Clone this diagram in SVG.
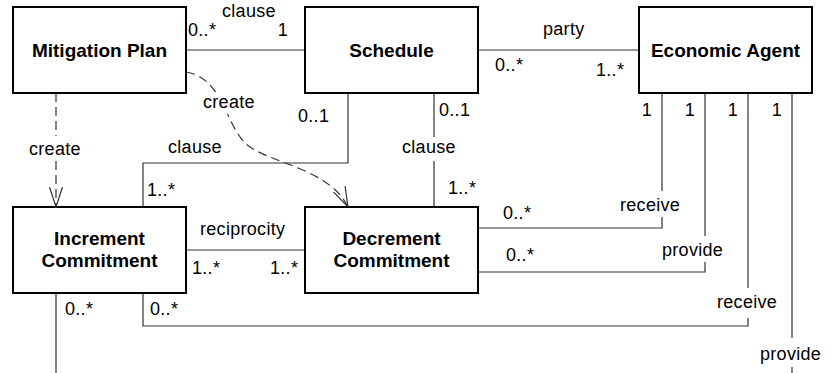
<svg xmlns="http://www.w3.org/2000/svg" width="839" height="373" viewBox="0 0 839 373">
  <style>
    .box { fill: #ffffff; stroke: #000000; stroke-width: 2; }
    .name { font-family: "Liberation Sans", Arial, sans-serif; font-size: 19px; font-weight: bold; fill: #000000; text-anchor: middle; }
    .lbl { font-family: "Liberation Sans", Arial, sans-serif; font-size: 18px; letter-spacing: 0.3px; fill: #000000; }
    .end { text-anchor: end; }
    .assoc { fill: none; stroke: #333333; stroke-width: 1.2; }
    .dep { fill: none; stroke: #333333; stroke-width: 1.2; stroke-dasharray: 9 5; }
  </style>
  <defs>
    <marker id="open-arrow" viewBox="0 0 20 14" refX="20" refY="7" markerWidth="20" markerHeight="14" markerUnits="userSpaceOnUse" orient="auto">
      <path d="M0,0.5 L20,7 L0,13.5" fill="none" stroke="#333333" stroke-width="1.2" stroke-dasharray="none"/>
    </marker>
  </defs>
  <rect width="839" height="373" fill="#ffffff"/>

  <!-- associations and dependencies -->
  <g id="connectors">
    <path class="assoc" d="M186,50 H305"/>
    <path class="assoc" d="M478,50 H639"/>
    <path class="assoc" d="M348,93 V163 H143 V207"/>
    <path class="assoc" d="M434,93 V137 M434,161 V207"/>
    <path class="assoc" d="M186,250 H305"/>
    <path class="assoc" d="M662,93 V191 M662,217 V228 H478"/>
    <path class="assoc" d="M705,93 V236 M705,262 V272 H478"/>
    <path class="assoc" d="M748,93 V288 M748,318 V326 H143 V293"/>
    <path class="assoc" d="M792,93 V338 M792,367 V373"/>
    <path class="assoc" d="M56,293 V373"/>
    <path class="dep" d="M56,93 V136 M56,161 V207" marker-end="url(#open-arrow)"/>
    <path class="dep" d="M186,72 C225,78 225,130 250,147 S330,170 348,207" marker-end="url(#open-arrow)"/>
  </g>

  <!-- classes -->
  <g id="mitigation-plan">
    <rect class="box" x="13" y="7" width="173" height="86"/>
    <text class="name" x="99.5" y="56.5">Mitigation Plan</text>
  </g>
  <g id="schedule">
    <rect class="box" x="305" y="7" width="173" height="86"/>
    <text class="name" x="391.5" y="56.5">Schedule</text>
  </g>
  <g id="economic-agent">
    <rect class="box" x="639" y="7" width="173" height="86"/>
    <text class="name" x="725.5" y="56.5">Economic Agent</text>
  </g>
  <g id="increment-commitment">
    <rect class="box" x="13" y="207" width="173" height="86"/>
    <text class="name" x="99.5" y="245">Increment</text>
    <text class="name" x="99.5" y="267">Commitment</text>
  </g>
  <g id="decrement-commitment">
    <rect class="box" x="305" y="207" width="173" height="86"/>
    <text class="name" x="391.5" y="245">Decrement</text>
    <text class="name" x="391.5" y="267">Commitment</text>
  </g>

  <!-- role names and multiplicities -->
  <g id="labels">
    <text class="lbl" x="222" y="17">clause</text>
    <text class="lbl" x="188" y="36">0..*</text>
    <text class="lbl end" x="288" y="36">1</text>

    <text class="lbl" x="543" y="35">party</text>
    <text class="lbl" x="495" y="71">0..*</text>
    <text class="lbl" x="596" y="76">1..*</text>

    <text class="lbl end" x="652" y="116">1</text>
    <text class="lbl end" x="695" y="116">1</text>
    <text class="lbl end" x="738" y="116">1</text>
    <text class="lbl end" x="782" y="116">1</text>

    <text class="lbl" x="298" y="122">0..1</text>
    <text class="lbl" x="439" y="116">0..1</text>

    <text class="lbl" x="168" y="153">clause</text>
    <text class="lbl" x="147" y="196">1..*</text>
    <text class="lbl" x="402" y="153">clause</text>
    <text class="lbl" x="448" y="194">1..*</text>

    <text class="lbl" x="29" y="155">create</text>
    <rect x="204" y="92" width="52" height="22" fill="#ffffff"/>
    <text class="lbl" x="203" y="108">create</text>

    <text class="lbl" x="200" y="235">reciprocity</text>
    <text class="lbl" x="192" y="274">1..*</text>
    <text class="lbl" x="270" y="274">1..*</text>

    <text class="lbl" x="503" y="219">0..*</text>
    <text class="lbl" x="506" y="261">0..*</text>

    <text class="lbl" x="620" y="211">receive</text>
    <text class="lbl" x="662" y="256">provide</text>
    <text class="lbl" x="717" y="308">receive</text>
    <text class="lbl" x="760" y="360">provide</text>

    <text class="lbl" x="65" y="315">0..*</text>
    <text class="lbl" x="150" y="315">0..*</text>
  </g>
</svg>
